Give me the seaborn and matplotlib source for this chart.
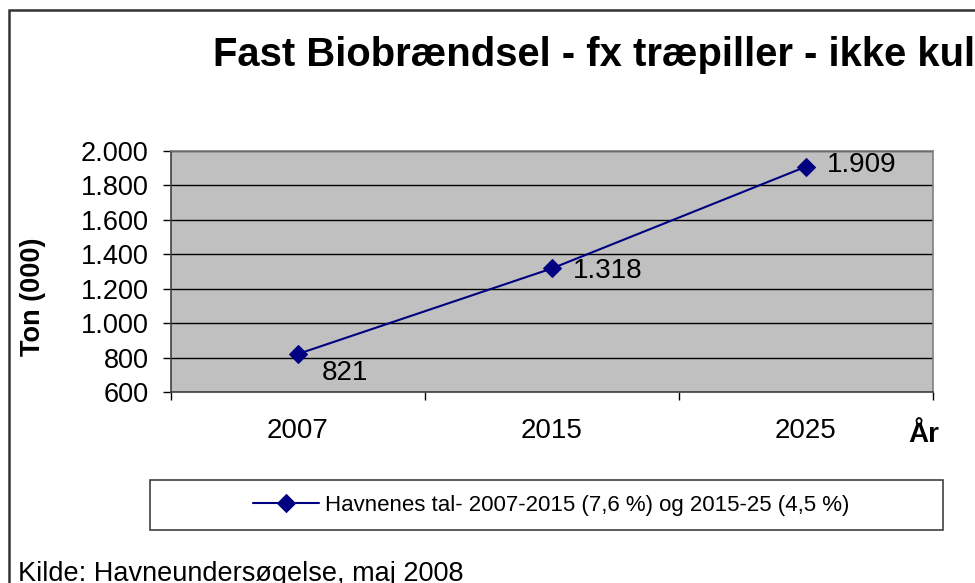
import matplotlib
matplotlib.use("Agg")
import matplotlib.pyplot as plt
import matplotlib.patches as mpatches
from matplotlib.ticker import FuncFormatter, FixedLocator
import seaborn as sns
import pandas as pd

# data
years = ["2007", "2015", "2025"]
tons = [821, 1318, 1909]
series_name = "Havnenes tal- 2007-2015 (7,6 %) og 2015-25 (4,5 %)"
title = "Fast Biobrændsel - fx træpiller - ikke kul"
source = "Kilde: Havneundersøgelse, maj 2008"

df = pd.DataFrame({"year": years, "tons": tons})

sns.set_style("white")
plt.rcParams["font.family"] = ["Liberation Sans", "DejaVu Sans"]
plt.rcParams["text.color"] = "black"
plt.rcParams["axes.labelcolor"] = "black"
plt.rcParams["xtick.color"] = "black"
plt.rcParams["ytick.color"] = "black"

fig = plt.figure(figsize=(9.75, 5.83), dpi=100)
ax = fig.add_axes([171 / 975, 1 - 392 / 583, (933 - 171) / 975, (392 - 151) / 583])
ax.set_facecolor("#C0C0C0")

navy = "#000080"
sns.lineplot(data=df, x="year", y="tons", marker="D", color=navy, linewidth=1.5,
             markersize=9.5, markeredgecolor=navy, sort=False, ax=ax, label=series_name,
             legend=False)

def dk(v, pos=None):
    return f"{int(v):,}".replace(",", ".")

# y axis
ax.set_ylim(600, 2000)
ax.set_yticks(range(600, 2001, 200))
ax.yaxis.set_major_formatter(FuncFormatter(dk))
ax.yaxis.grid(True, color="black", linewidth=1)
ax.set_axisbelow(True)
ax.tick_params(axis="y", direction="out", length=6, width=1, pad=10, labelsize=19.5, left=True)
ax.set_ylabel("")
fig.text(33 / 975, 1 - 297 / 583, "Ton (000)", fontsize=19.5, fontweight="bold",
         rotation=90, va="center", ha="center")

# x axis: ticks between categories, labels at the categories
ax.set_xlim(-0.5, len(years) - 0.5)
ax.xaxis.set_major_locator(FixedLocator([i - 0.5 for i in range(len(years) + 1)]))
ax.xaxis.set_minor_locator(FixedLocator(list(range(len(years)))))
ax.set_xticklabels([], minor=False)
ax.set_xticklabels(years, minor=True)
ax.tick_params(axis="x", which="major", direction="out", length=6, width=1, bottom=True)
ax.tick_params(axis="x", which="minor", length=0, pad=19, labelsize=20)
ax.set_xlabel("")
fig.text(908 / 975, 1 - 435 / 583, "År", fontsize=20, fontweight="bold", va="center", ha="left")

for s in ["top", "right"]:
    ax.spines[s].set_color("#808080")
for s in ["left", "bottom"]:
    ax.spines[s].set_color("#404040")
for s in ax.spines.values():
    s.set_linewidth(1.2)

# data labels
offsets = [(17, -14), (15, -2), (15, 1)]
for i, (v, off) in enumerate(zip(tons, offsets)):
    ax.annotate(dk(v), (i, v), xytext=off, textcoords="offset points",
                fontsize=20, ha="left", va="center")

# title
fig.text(213 / 975, 1 - 55 / 583, title, fontsize=28.8, fontweight="bold", va="center", ha="left")

# legend box
box = mpatches.Rectangle((150 / 975, 1 - 530 / 583), (943 - 150) / 975, 50 / 583,
                         transform=fig.transFigure, facecolor="white", edgecolor="#404040",
                         linewidth=1.2, zorder=1)
fig.patches.append(box)
handles, labels = ax.get_legend_handles_labels()
fig.legend(handles, labels, loc="center", bbox_to_anchor=(551 / 975, 1 - 505 / 583),
           frameon=False, fontsize=16, handlelength=3.0, handletextpad=0.25,
           borderpad=0, borderaxespad=0)

# outer chart frame (cut off at right and bottom)
frame = mpatches.Rectangle((9 / 975, -0.2), 1.2, 0.2 + 1 - 10 / 583,
                           transform=fig.transFigure, facecolor="none", edgecolor="#333333",
                           linewidth=1.8)
fig.patches.append(frame)

fig.text(18 / 975, 2 / 583, source, fontsize=19.5, va="baseline", ha="left")

fig.savefig("out.png", dpi=100)
